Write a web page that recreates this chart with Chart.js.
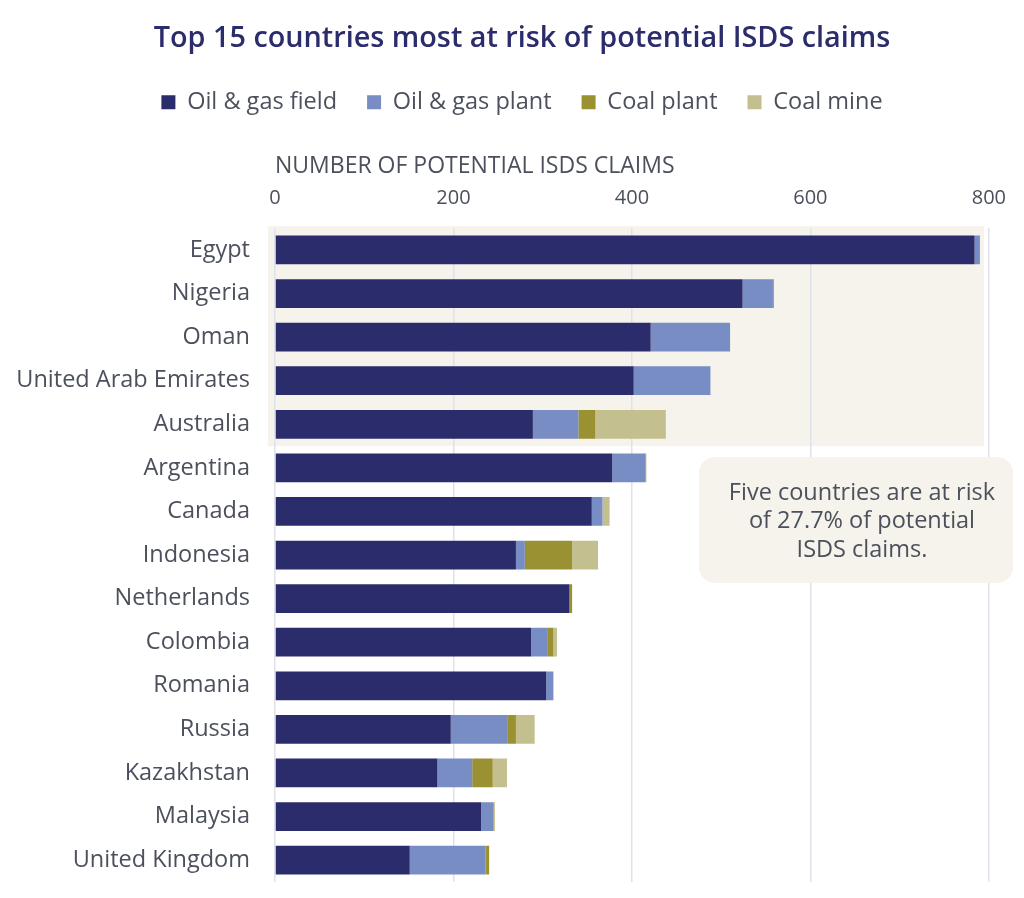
<!DOCTYPE html>
<html>
<head>
<meta charset="utf-8">
<script src="https://cdn.jsdelivr.net/npm/chart.js"></script>
<style>
  html, body { margin: 0; padding: 0; background: #ffffff; overflow: hidden; }
  #wrap { width: 1024px; height: 921px; position: relative; }
</style>
</head>
<body>
<div id="wrap"><canvas id="chart"></canvas></div>
<script>
const countries = ['Egypt', 'Nigeria', 'Oman', 'United Arab Emirates', 'Australia', 'Argentina', 'Canada',
  'Indonesia', 'Netherlands', 'Colombia', 'Romania', 'Russia', 'Kazakhstan', 'Malaysia', 'United Kingdom'];

const oilGasField = [784, 524, 421, 402, 289, 378, 355, 270, 330, 287, 304, 197, 182, 231, 151];
const oilGasPlant = [6, 34, 89, 86, 51, 37, 12, 10, 0, 18, 8, 64, 39, 14, 85];
const coalPlant   = [0, 1, 0, 0, 19, 1, 0, 53, 3, 7, 0, 9, 23, 1, 4];
const coalMine    = [0, 0, 0, 0, 79, 0, 8, 29, 0, 4, 0, 21, 16, 0, 0];

const xTicks = [0, 200, 400, 600, 800];
const noteLines = ['Five countries are at risk', 'of 27.7% of potential', 'ISDS claims.'];
const highlightCount = 5;

const FONT = "'Open Sans', 'Noto Sans', sans-serif";
const TEXT = '#4b505c';
const BEIGE = '#f5f3eb';

// beige band behind the top five countries, drawn under the grid
const highlightBand = {
  id: 'highlightBand',
  afterLayout(chart) {
    // widen the label clip so the long country name is not cut at the padding
    chart.scales.y.left = 0;
  },
  beforeDraw(chart) {
    const { ctx, chartArea, scales } = chart;
    const left = scales.x.getPixelForValue(0) - 7;
    const right = scales.x.getPixelForValue(800) - 5;
    const bottom = (scales.y.getPixelForValue(highlightCount - 1) + scales.y.getPixelForValue(highlightCount)) / 2;
    ctx.save();
    ctx.fillStyle = BEIGE;
    ctx.fillRect(left, chartArea.top - 2, right - left, bottom - chartArea.top + 2);
    ctx.restore();
  }
};

// rounded note box on the right
const noteBox = {
  id: 'noteBox',
  afterDatasetsDraw(chart) {
    const { ctx } = chart;
    const x = 699, y = 457, w = 314, h = 126, r = 16;
    ctx.save();
    ctx.fillStyle = BEIGE;
    ctx.beginPath();
    ctx.roundRect(x, y, w, h, r);
    ctx.fill();
    ctx.fillStyle = TEXT;
    ctx.font = '23.5px ' + FONT;
    ctx.textAlign = 'center';
    ctx.textBaseline = 'middle';
    noteLines.forEach((line, i) => ctx.fillText(line, 862, y + 36 + i * 28.5));
    ctx.restore();
  }
};

const bar = (label, data, color) => ({
  label, data, backgroundColor: color, borderWidth: 0,
  categoryPercentage: 1, barPercentage: 0.66
});

new Chart(document.getElementById('chart'), {
  type: 'bar',
  data: {
    labels: countries,
    datasets: [
      bar('Oil & gas field', oilGasField, '#2b2c6b'),
      bar('Oil & gas plant', oilGasPlant, '#788dc4'),
      bar('Coal plant', coalPlant, '#9a9133'),
      bar('Coal mine', coalMine, '#c3bf8f')
    ]
  },
  options: {
    indexAxis: 'y',
    responsive: true,
    maintainAspectRatio: false,
    animation: false,
    devicePixelRatio: 1,
    layout: { padding: { left: 20, right: 0, top: 16, bottom: 0 } },
    plugins: {
      title: {
        display: true,
        text: 'Top 15 countries most at risk of potential ISDS claims',
        color: '#2b2c6b',
        font: { family: FONT, size: 28.8, weight: '600' },
        padding: { top: 6, bottom: 4 }
      },
      legend: {
        position: 'top',
        labels: {
          color: TEXT,
          font: { family: FONT, size: 23.5 },
          boxWidth: 14,
          boxHeight: 14,
          padding: 30
        }
      },
      tooltip: { enabled: false }
    },
    scales: {
      x: {
        position: 'top',
        stacked: true,
        min: 0,
        max: 800,
        afterBuildTicks(axis) { axis.ticks = xTicks.map(v => ({ value: v })); },
        border: { display: false },
        grid: { color: '#dfe2ea', lineWidth: 1.5, drawTicks: false },
        ticks: { color: TEXT, font: { family: FONT, size: 20 }, padding: 18 },
        title: {
          display: true,
          text: 'NUMBER OF POTENTIAL ISDS CLAIMS',
          align: 'start',
          color: TEXT,
          font: { family: FONT, size: 23, lineHeight: 0.7 },
          padding: { top: 34, bottom: -6 }
        }
      },
      y: {
        stacked: true,
        border: { display: false },
        grid: { display: false, drawTicks: false },
        ticks: { color: TEXT, font: { family: FONT, size: 23.5 }, padding: 25 },
        afterFit(axis) { axis.width = 255; }
      },
      // empty right-hand gutter so the plot ends where the reference does
      gutter: {
        axis: 'y',
        type: 'linear',
        position: 'right',
        border: { display: false },
        grid: { display: false, drawTicks: false },
        ticks: { display: false },
        afterFit(axis) { axis.width = 35; }
      }
    }
  },
  plugins: [highlightBand, noteBox]
});
</script>
</body>
</html>
